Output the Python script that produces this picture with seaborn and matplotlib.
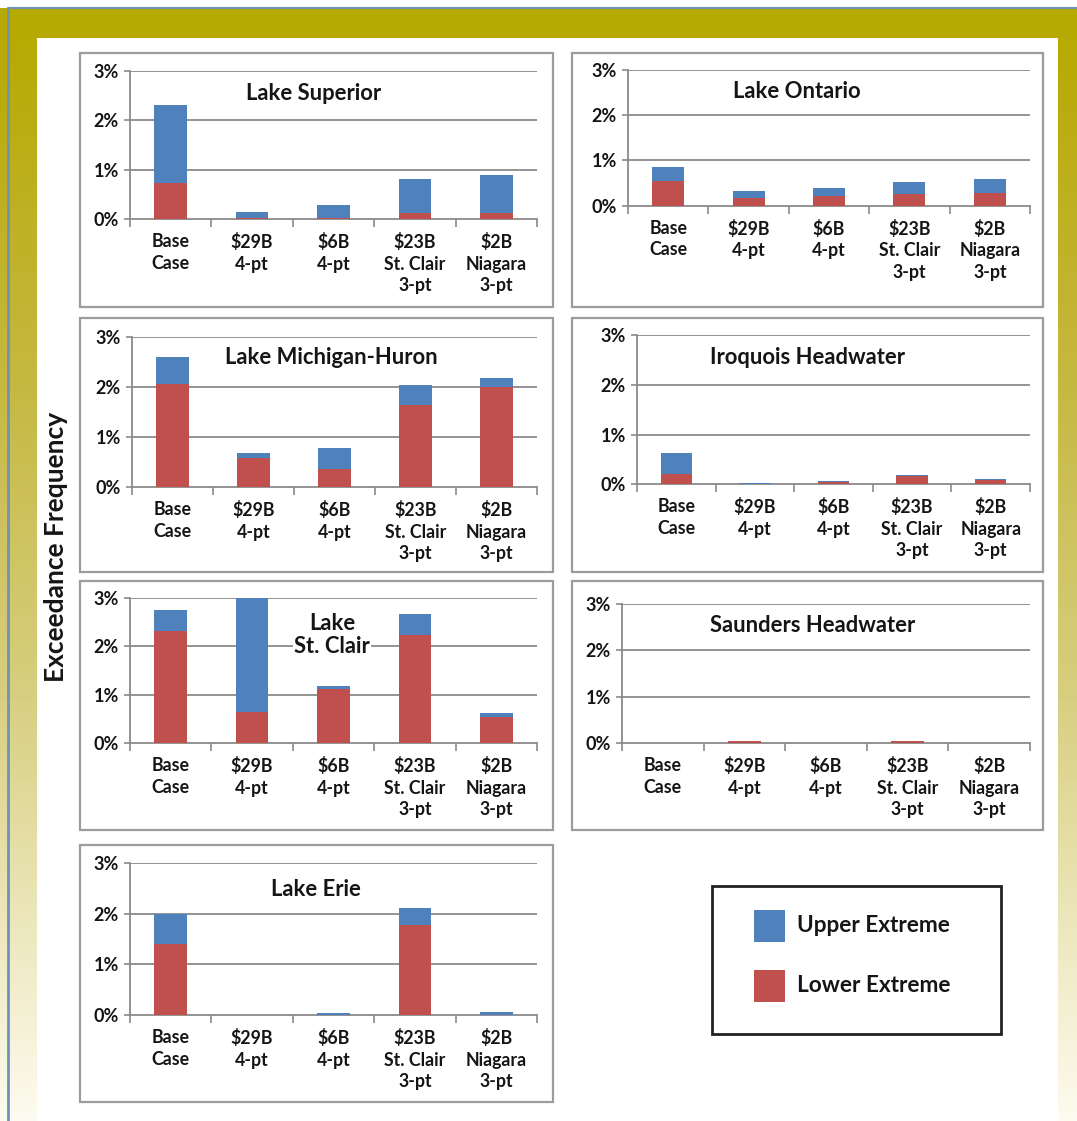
import numpy as np
import matplotlib
matplotlib.use("Agg")
import matplotlib.pyplot as plt
from matplotlib.patches import Rectangle
from matplotlib.lines import Line2D
from matplotlib.colors import LinearSegmentedColormap
import seaborn as sns

# ---------------- data (percent) ----------------
categories = ["Base\nCase", "$29B\n4-pt", "$6B\n4-pt", "$23B\nSt. Clair\n3-pt", "$2B\nNiagara\n3-pt"]

superior_lower = [0.73, 0.02, 0.03, 0.12, 0.12]
superior_upper = [1.58, 0.13, 0.25, 0.69, 0.78]

ontario_lower = [0.55, 0.17, 0.21, 0.26, 0.29]
ontario_upper = [0.30, 0.16, 0.19, 0.26, 0.30]

michigan_lower = [2.05, 0.58, 0.36, 1.63, 2.00]
michigan_upper = [0.54, 0.10, 0.43, 0.41, 0.18]

iroquois_lower = [0.20, 0.00, 0.04, 0.16, 0.09]
iroquois_upper = [0.42, 0.03, 0.03, 0.03, 0.01]

stclair_lower = [2.32, 0.64, 1.12, 2.23, 0.55]
stclair_upper = [0.43, 2.36, 0.07, 0.43, 0.07]

saunders_lower = [0.00, 0.06, 0.00, 0.06, 0.00]
saunders_upper = [0.00, 0.00, 0.00, 0.00, 0.00]

erie_lower = [1.40, 0.00, 0.00, 1.78, 0.00]
erie_upper = [0.60, 0.00, 0.03, 0.34, 0.06]

y_ticks = [0, 1, 2, 3]
y_tick_labels = ["0%", "1%", "2%", "3%"]
legend_labels = ["Upper Extreme", "Lower Extreme"]

BLUE = "#4F81BD"
RED = "#C0504D"
GRID = "#8a8a8a"
TXT = "#151515"

# ---------------- figure ----------------
sns.set_theme(style="white")
plt.rcParams["font.family"] = ["Lato", "DejaVu Sans"]
plt.rcParams["font.weight"] = "bold"

W, H = 1077, 1121
fig = plt.figure(figsize=(W / 100, H / 100), dpi=100)
fig.patch.set_facecolor("white")


def fx(x):
    return x / W


def fy(y):
    return 1 - y / H


def rect_axes(x0, y0, x1, y1, **kw):
    return fig.add_axes([fx(x0), fy(y1), (x1 - x0) / W, (y1 - y0) / H], **kw)


# background gradient
bg = fig.add_axes([0, 0, 1, 1], zorder=-10)
cmap = LinearSegmentedColormap.from_list(
    "olive",
    [(0.0, "#B6A900"), (0.05, "#B8AB08"), (0.35, "#C6B944"), (0.62, "#D7CF80"),
     (0.85, "#EFEAC4"), (1.0, "#FDFBF0")])
grad = np.linspace(0, 1, 256).reshape(-1, 1)
bg.imshow(grad, aspect="auto", cmap=cmap, extent=[0, W, H, 8])
bg.add_patch(Rectangle((37, 38), 1058 - 37, H - 38, facecolor="white", edgecolor="none"))
bg.add_line(Line2D([7.5, 7.5], [8, H], color="#6F93B8", lw=2))
bg.add_line(Line2D([7.5, W], [8, 8], color="#6F93B8", lw=1.5))
bg.set_xlim(0, W)
bg.set_ylim(H, 0)
bg.axis("off")

# panel boxes
boxes = [(80, 53, 553, 307), (572, 53, 1043, 307),
         (80, 318, 553, 572), (572, 318, 1043, 572),
         (80, 581, 553, 830), (572, 581, 1043, 830),
         (80, 845, 553, 1102)]
for (x0, y0, x1, y1) in boxes:
    bg.add_patch(Rectangle((x0, y0), x1 - x0, y1 - y0, facecolor="white",
                           edgecolor="#9c9c9c", lw=1.6))

panels = [
    ("Lake Superior", superior_lower, superior_upper, (130, 70.7, 537, 219.3), (314, 93)),
    ("Lake Ontario", ontario_lower, ontario_upper, (628, 70, 1030, 205.7), (797, 92)),
    ("Lake Michigan-Huron", michigan_lower, michigan_upper, (132, 336.7, 537, 487.3), (331, 358)),
    ("Iroquois Headwater", iroquois_lower, iroquois_upper, (637, 335, 1030, 484.3), (807, 358)),
    ("Lake\nSt. Clair", stclair_lower, stclair_upper, (130, 597.7, 537, 743.3), (332, 635)),
    ("Saunders Headwater", saunders_lower, saunders_upper, (622, 604, 1030, 743.3), (813, 625)),
    ("Lake Erie", erie_lower, erie_upper, (130, 863.3, 537, 1015), (316, 890)),
]

for title, lower, upper, (x0, y0, x1, y1), (tx, ty) in panels:
    ax = rect_axes(x0, y0, x1, y1)
    ax.patch.set_alpha(0)
    total = [l + u for l, u in zip(lower, upper)]
    sns.barplot(x=categories, y=total, color=BLUE, saturation=1, width=0.4,
                ax=ax, order=categories, zorder=3)
    sns.barplot(x=categories, y=lower, color=RED, saturation=1, width=0.4,
                ax=ax, order=categories, zorder=4)
    for p in ax.patches:
        p.set_linewidth(0)
    ax.set_xlim(-0.5, len(categories) - 0.5)
    ax.set_ylim(0, 3)
    ax.set_yticks(y_ticks)
    ax.set_yticklabels(y_tick_labels, fontsize=13, fontweight="bold", color=TXT)
    ax.set_xticks(range(len(categories)))
    ax.set_xticklabels(categories, fontsize=12.8, fontweight="bold", color=TXT,
                       linespacing=1.33, va="top")
    ax.set_xticks(np.arange(-0.5, len(categories), 1.0), minor=True)
    ax.tick_params(axis="x", which="major", length=0, pad=10)
    ax.tick_params(axis="x", which="minor", length=6, width=1.2, color=GRID,
                   direction="out", bottom=True)
    ax.tick_params(axis="y", which="major", length=4, width=1.2, color=GRID,
                   direction="out", left=True, pad=4)
    ax.set_xlabel("")
    ax.set_ylabel("")
    ax.grid(False)
    for yv in y_ticks[1:]:
        ax.axhline(yv, color=GRID, lw=1.3, zorder=1)
    for s in ["top", "right"]:
        ax.spines[s].set_visible(False)
    for s in ["left", "bottom"]:
        ax.spines[s].set_color(GRID)
        ax.spines[s].set_linewidth(1.3)
    kw = {}
    if "\n" in title:
        kw["bbox"] = dict(facecolor="white", edgecolor="none", pad=1)
    fig.text(fx(tx), fy(ty), title, ha="center", va="center", fontsize=15.8,
             fontweight="bold", color=TXT, linespacing=1.15, zorder=10, **kw)

# y label
fig.text(fx(56), fy(547), "Exceedance Frequency", rotation=90, ha="center",
         va="center", fontsize=19, fontweight="bold", color=TXT)

# legend box
bg.add_patch(Rectangle((712, 886), 1001 - 712, 1034 - 886, facecolor="white",
                       edgecolor="#222222", lw=2))
bg.add_patch(Rectangle((754, 910), 31, 32, facecolor=BLUE, edgecolor="none"))
bg.add_patch(Rectangle((754, 970), 31, 32, facecolor=RED, edgecolor="none"))
fig.text(fx(797), fy(926), legend_labels[0], ha="left", va="center", fontsize=16.3,
         fontweight="bold", color=TXT)
fig.text(fx(797), fy(986), legend_labels[1], ha="left", va="center", fontsize=16.3,
         fontweight="bold", color=TXT)

fig.savefig("out.png", dpi=100)
